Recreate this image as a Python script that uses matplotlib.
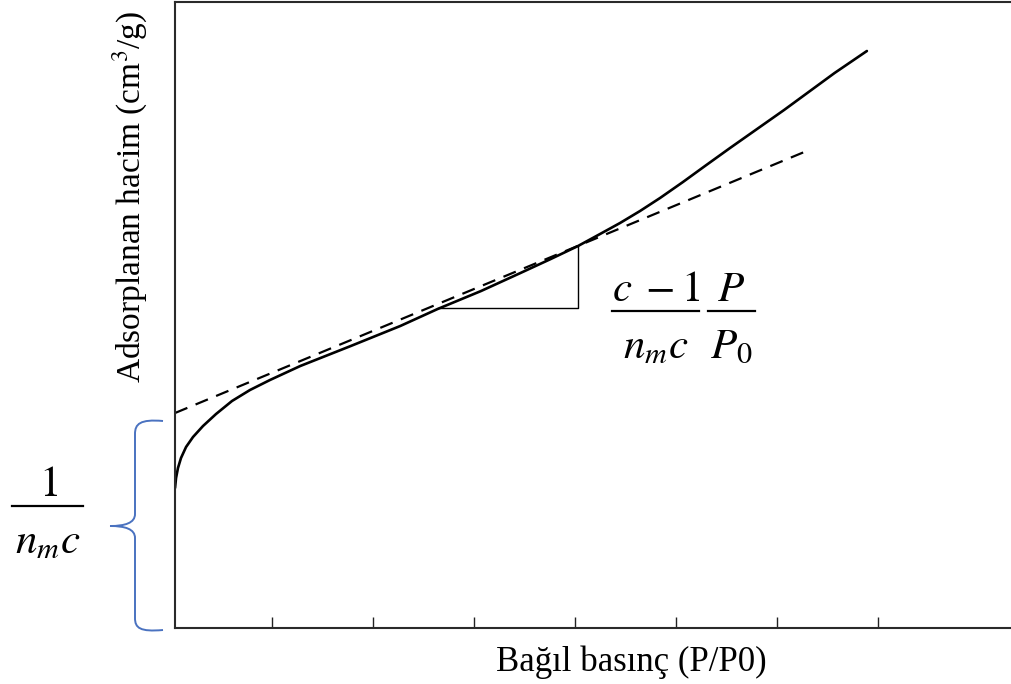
import matplotlib
matplotlib.use("Agg")
import matplotlib.pyplot as plt
from matplotlib.path import Path
from matplotlib.patches import PathPatch
from matplotlib.lines import Line2D

# BET isotherm (relative pressure in tick units, adsorbed volume in arbitrary units)
iso_x = [0.04, 0.05, 0.069, 0.099, 0.149, 0.218, 0.317, 0.446, 0.604, 0.782, 0.98,
         1.28, 1.78, 2.27, 2.64, 3.07, 3.46, 3.76, 4.03,
         4.248, 4.446, 4.644, 4.842, 5.069, 5.287, 5.535, 6.07, 6.57, 6.89]
iso_y = [140, 150, 160, 170, 181, 191, 202, 214, 227, 238, 248,
         262, 282, 302, 319, 337, 355, 369, 382,
         394, 405, 417, 430, 446, 462, 480, 518, 555, 577]

# Linear BET fit (dashed)
fit_x = [0.04, 6.27]
fit_y = [215, 476]

# Slope triangle corners
tri_x = [2.64, 4.03, 4.03]
tri_y = [320, 320, 382]

tick_pos = [1, 2, 3, 4, 5, 6, 7]

W, H = 1012, 684
fig = plt.figure(figsize=(W / 100, H / 100), dpi=100)
ax = fig.add_axes([175 / W, (H - 628) / H, (W - 175) / W, 626 / H])

ax.plot(iso_x, iso_y, color="black", lw=1.9, solid_capstyle="round", solid_joinstyle="round")
ax.plot(fit_x, fit_y, color="black", lw=1.6, dashes=(6, 4))
ax.plot(tri_x, tri_y, color="black", lw=1.0)

ax.set_xlim(1 - 97 / 101, 1 + (W - 272) / 101)
ax.set_ylim(0, 626)
ax.set_xticks(tick_pos)
ax.set_xticklabels([])
ax.set_yticks([])
ax.tick_params(axis="x", direction="in", length=8, width=1.0, color="#222222")
for side in ("left", "bottom", "top"):
    ax.spines[side].set_linewidth(1.5)
    ax.spines[side].set_color("#2a2a2a")
ax.spines["right"].set_visible(False)

serif = "Liberation Serif"
plt.rcParams["mathtext.fontset"] = "stix"


def fx(px):
    return px / W


def fy(py):
    return 1 - py / H


fig.text(fx(631), fy(662), "Bağıl basınç (P/P0)", ha="center", va="center",
         fontsize=25, family=serif)
fig.text(fx(130), fy(197), "Adsorplanan hacim (cm$^3$/g)", ha="center", va="center",
         rotation=90, fontsize=24, family=serif)


def fraction(cx, bar_y, x0, x1, num, den, size=31):
    fig.add_artist(Line2D([fx(x0), fx(x1)], [fy(bar_y), fy(bar_y)], color="black",
                          lw=1.6, transform=fig.transFigure))
    fig.text(fx(cx), fy(bar_y - 10), num, ha="center", va="baseline", fontsize=size)
    fig.text(fx(cx), fy(bar_y + 14), den, ha="center", va="top", fontsize=size)


fraction(656, 311, 612, 699, r"$c\;-1$", r"$n_m c$")
fraction(731, 311, 708, 755, r"$P$", r"$P_0$")
fraction(48, 506, 12, 83, r"$1$", r"$n_m c$")

# Blue brace marking the intercept
verts = [
    (163, 421), (140, 419), (135, 424), (135, 434),
    (135, 514),
    (135, 523), (125, 526), (110, 526),
    (125, 526), (135, 529), (135, 538),
    (135, 618),
    (135, 628), (140, 632), (163, 630),
]
codes = [Path.MOVETO, Path.CURVE4, Path.CURVE4, Path.CURVE4,
         Path.LINETO,
         Path.CURVE4, Path.CURVE4, Path.CURVE4,
         Path.CURVE4, Path.CURVE4, Path.CURVE4,
         Path.LINETO,
         Path.CURVE4, Path.CURVE4, Path.CURVE4]
brace = Path([(fx(a), fy(b)) for a, b in verts], codes)
fig.add_artist(PathPatch(brace, facecolor="none", edgecolor="#4a72c0", lw=1.4,
                         transform=fig.transFigure))

fig.savefig("out.png", dpi=100)
